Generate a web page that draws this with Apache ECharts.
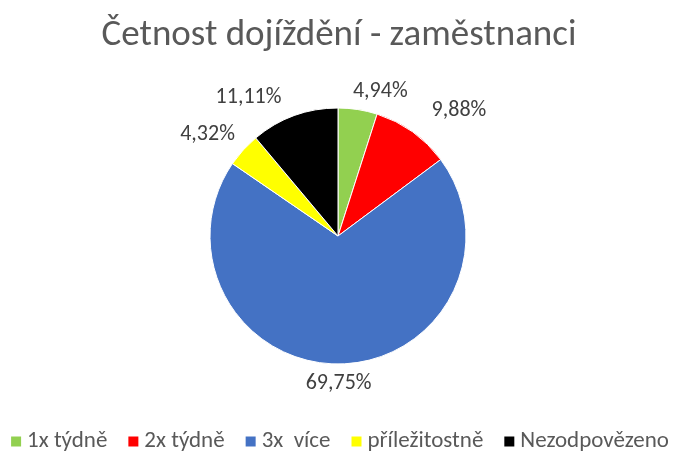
<!DOCTYPE html>
<html>
<head>
<meta charset="utf-8">
<script src="https://cdn.jsdelivr.net/npm/echarts@6/dist/echarts.min.js"></script>
<style>
  html, body { margin: 0; padding: 0; background: #fff; }
  #chart { width: 678px; height: 452px; }
</style>
</head>
<body>
<div id="chart"></div>
<script>
var categories = ['1x týdně', '2x týdně', '3x  více', 'příležitostně', 'Nezodpovězeno']
var percents = [4.94, 9.88, 69.75, 4.32, 11.11]
var colors = ['#92D050', '#FF0000', '#4472C4', '#FFFF00', '#000000']

var chart = echarts.init(document.getElementById('chart'))
var font = 'Carlito, Lato, sans-serif'
// small nudges so labels sit where Excel put them
var labelNudge = [[-12, -4], [6, -10], [-40, 6], [7, -6], [-3, -5]]

chart.setOption({
  animation: false,
  color: colors,
  title: {
    text: 'Četnost dojíždění - zaměstnanci',
    left: 'center',
    top: 12,
    textStyle: {
      fontFamily: font,
      fontSize: 37,
      fontWeight: 'normal',
      color: '#595959'
    }
  },
  legend: {
    top: 425,
    left: 'center',
    itemWidth: 12,
    itemHeight: 12,
    itemGap: 19,
    icon: 'rect',
    textStyle: {
      fontFamily: font,
      fontSize: 23,
      color: '#595959'
    },
    data: categories
  },
  series: [{
    type: 'pie',
    center: [338, 236],
    radius: 128,
    startAngle: 90,
    clockwise: true,
    itemStyle: {
      borderColor: '#fff',
      borderWidth: 1
    },
    label: {
      show: true,
      position: 'outside',
      fontFamily: font,
      fontSize: 22,
      color: '#404040',
      formatter: function (p) {
        return p.value.toFixed(2).replace('.', ',') + '%'
      }
    },
    labelLine: {
      show: false,
      length: 14,
      length2: 0
    },
    labelLayout: function (params) {
      var n = labelNudge[params.dataIndex]
      return { dx: n[0], dy: n[1] }
    },
    data: categories.map(function (name, i) {
      return { name: name, value: percents[i] }
    })
  }]
})
</script>
</body>
</html>
